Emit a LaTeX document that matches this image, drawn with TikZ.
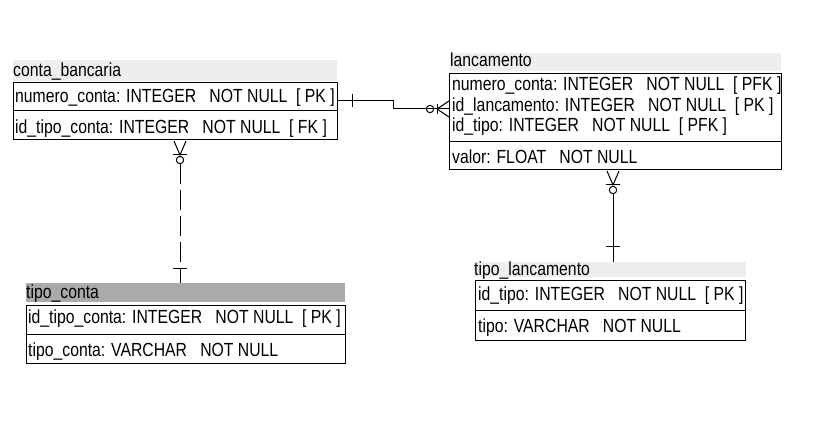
\documentclass[tikz,border=0pt]{standalone}
\usepackage{fontspec}
\setmainfont{Liberation Sans}[FakeStretch=0.83]
\definecolor{hdrlight}{HTML}{EEEEEE}
\definecolor{hdrdark}{HTML}{AAAAAA}
\begin{document}
\begin{tikzpicture}[x=1pt,y=-1pt,
  font=\fontsize{19}{22}\selectfont,
  tbl/.style={draw=black,line width=1pt,inner sep=0pt,anchor=north west},
  txt/.style={anchor=base west,inner sep=0pt},
  conn/.style={draw=black,line width=1pt},
  dashconn/.style={conn,dash pattern=on 20pt off 6pt}]
\useasboundingbox[fill=white] (0,0) rectangle (825,441);
\newcommand{\sepA}{\ \ \ }
\newcommand{\sepB}{\ \ }
% ---------- conta_bancaria ----------
\fill[hdrlight] (13,60) rectangle (337,81);
\node[txt] (cbh) at (13,76.5) {conta\_bancaria};
\node[tbl,minimum width=324pt,minimum height=57pt] (cb) at (13,82) {};
\draw[line width=1pt] (13,111) -- (337,111);
\node[txt] (cb1) at (15,103) {numero\_conta: INTEGER\sepA NOT NULL\sepB [ PK ]};
\node[txt] (cb2) at (15,133.5) {id\_tipo\_conta: INTEGER\sepA NOT NULL\sepB [ FK ]};
% ---------- lancamento ----------
\fill[hdrlight] (450,53) rectangle (781,71);
\node[txt] (lah) at (450,67) {lancamento};
\node[tbl,minimum width=332pt,minimum height=96pt] (la) at (449,73.5) {};
\draw[line width=1pt] (449,142) -- (781,142);
\node[txt] (la1) at (452,91) {numero\_conta: INTEGER\sepA NOT NULL\sepB [ PFK ]};
\node[txt] (la2) at (452,111.5) {id\_lancamento: INTEGER\sepA NOT NULL\sepB [ PK ]};
\node[txt] (la3) at (452,132) {id\_tipo: INTEGER\sepA NOT NULL\sepB [ PFK ]};
\node[txt] (la4) at (452,164) {valor: FLOAT\sepA NOT NULL};
% ---------- tipo_conta ----------
\fill[hdrdark] (26,283) rectangle (345,302);
\node[txt] (tch) at (26,298.5) {tipo\_conta};
\node[tbl,minimum width=319pt,minimum height=58pt] (tc) at (26,305) {};
\draw[line width=1pt] (26,334) -- (345,334);
\node[txt] (tc1) at (28,323.5) {id\_tipo\_conta: INTEGER\sepA NOT NULL\sepB [ PK ]};
\node[txt] (tc2) at (28,356.5) {tipo\_conta: VARCHAR\sepA NOT NULL};
% ---------- tipo_lancamento ----------
\fill[hdrlight] (474,262) rectangle (746,277);
\node[txt] (tlh) at (474,275) {tipo\_lancamento};
\node[tbl,minimum width=270pt,minimum height=60pt] (tl) at (475,279.5) {};
\draw[line width=1pt] (475,310) -- (745,310);
\node[txt] (tl1) at (478,300.5) {id\_tipo: INTEGER\sepA NOT NULL\sepB [ PK ]};
\node[txt] (tl2) at (478,332.5) {tipo: VARCHAR\sepA NOT NULL};
% ---------- connector conta_bancaria -> lancamento ----------
\coordinate (p1) at (cb.east |- 0,100.5);
\coordinate (p2) at (la.west |- 0,109);
\draw[conn] (p1) -- (393,100.5) -- (393,109) -- (p2);
\draw[conn] (352,94) -- (352,107);
\draw[conn] (437,109) -- (449,101) (437,109) -- (449,117);
\draw[conn] (437,104) -- (437,114);
\draw[conn] (430,109) circle (3.7pt);
% ---------- connector conta_bancaria -> tipo_conta ----------
\coordinate (q2) at (tc.north -| 180,0);
\draw[conn] (174,141) -- (180,155) -- (186,141);
\draw[conn] (173,155) -- (187,155);
\draw[conn] (180,160) circle (3.7pt);
\draw[dashconn] (180,163.7) -- (180,283);
\draw[conn] (173,268) -- (187,268);
% ---------- connector lancamento -> tipo_lancamento ----------
\draw[conn] (607,171) -- (613,185) -- (619,171);
\draw[conn] (606,185) -- (620,185);
\draw[conn] (613,190) circle (3.7pt);
\draw[conn] (613,193.7) -- (613,262);
\draw[conn] (606,246) -- (620,246);
\end{tikzpicture}
\end{document}
